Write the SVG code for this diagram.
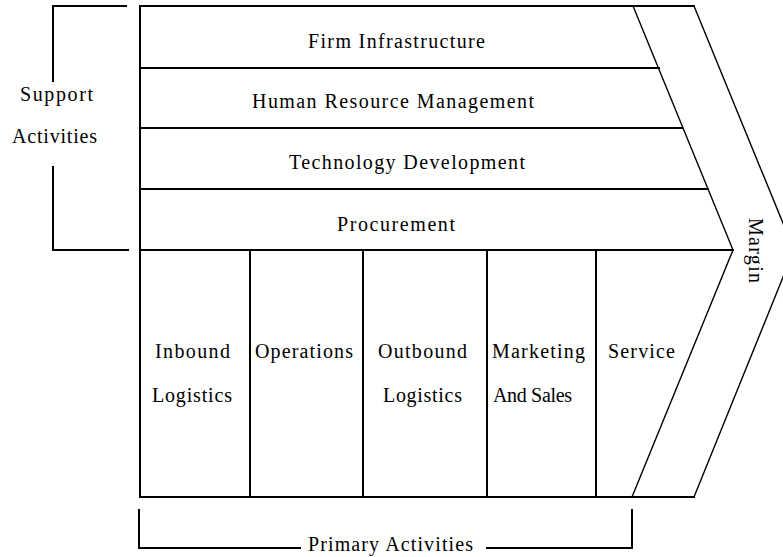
<svg xmlns="http://www.w3.org/2000/svg" width="783" height="557" viewBox="0 0 783 557">
<style>
.ln{stroke:#000;stroke-width:2;fill:none;stroke-linecap:square}
.dg{stroke:#000;stroke-width:1.4;fill:none}
.t{font-family:"Liberation Serif","Times New Roman",serif;font-size:20px;fill:#000}
</style>
<rect width="783" height="557" fill="#fff"/>
<g id="frame">
<path class="ln" d="M140,6 H694 M140,497 H694 M140,6 V497"/>
<path class="dg" d="M633,6 L733,250 L632,497"/>
<path class="dg" d="M694,6 L794,250 L694,497"/>
</g>
<g id="firm-infrastructure">
<path class="ln" d="M140,68 H659"/>
<text class="t" x="308" y="48" textLength="177" lengthAdjust="spacing">Firm Infrastructure</text>
</g>
<g id="human-resource">
<path class="ln" d="M140,128 H682"/>
<text class="t" x="252" y="108" textLength="282" lengthAdjust="spacing">Human Resource Management</text>
</g>
<g id="technology-development">
<path class="ln" d="M140,189 H708"/>
<text class="t" x="289" y="169" textLength="236" lengthAdjust="spacing">Technology Development</text>
</g>
<g id="procurement">
<path class="ln" d="M140,250 H733"/>
<text class="t" x="337" y="231" textLength="118" lengthAdjust="spacing">Procurement</text>
</g>
<g id="inbound-logistics">
<path class="ln" d="M250,250 V497"/>
<text class="t" x="155" y="358" textLength="75" lengthAdjust="spacing">Inbound</text>
<text class="t" x="152" y="402" textLength="80" lengthAdjust="spacing">Logistics</text>
</g>
<g id="operations">
<path class="ln" d="M363,250 V497"/>
<text class="t" x="255" y="358" textLength="98" lengthAdjust="spacing">Operations</text>
</g>
<g id="outbound-logistics">
<path class="ln" d="M487,250 V497"/>
<text class="t" x="378" y="358" textLength="89" lengthAdjust="spacing">Outbound</text>
<text class="t" x="383" y="402" textLength="79" lengthAdjust="spacing">Logistics</text>
</g>
<g id="marketing-sales">
<path class="ln" d="M596,250 V497"/>
<text class="t" x="492" y="358" textLength="93" lengthAdjust="spacing">Marketing</text>
<text class="t" x="493" y="402" textLength="79" lengthAdjust="spacing">And Sales</text>
</g>
<g id="service">
<text class="t" x="608" y="358" textLength="67" lengthAdjust="spacing">Service</text>
</g>
<g id="margin">
<text class="t" transform="translate(749,218) rotate(90)" textLength="65" lengthAdjust="spacing">Margin</text>
</g>
<g id="connectors">
<path class="ln" d="M126,6 H53 V81 M53,167 V250 H128"/>
<path class="ln" d="M139,510 V548 H300 M487,548 H632 V510"/>
</g>
<g id="support-activities">
<text class="t" x="20" y="101" textLength="73" lengthAdjust="spacing">Support</text>
<text class="t" x="12" y="143" textLength="85" lengthAdjust="spacing">Activities</text>
</g>
<g id="primary-activities">
<text class="t" x="308" y="551" textLength="165" lengthAdjust="spacing">Primary Activities</text>
</g>
</svg>
